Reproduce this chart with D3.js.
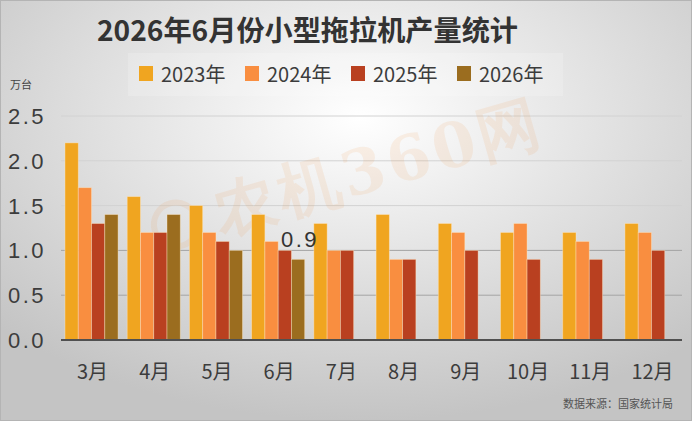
<!DOCTYPE html>
<html>
<head>
<meta charset="utf-8">
<script src="https://cdn.jsdelivr.net/npm/d3@7"></script>
<style>
  body { margin: 0; padding: 0; background: #fff; }
  svg { display: block; }
</style>
</head>
<body>
<div id="chart"></div>
<script>
// chart values
const months = ["3月", "4月", "5月", "6月", "7月", "8月", "9月", "10月", "11月", "12月"];
const years = ["2023年", "2024年", "2025年", "2026年"];
const s2023 = [2.2, 1.6, 1.5, 1.4, 1.3, 1.4, 1.3, 1.2, 1.2, 1.3];
const s2024 = [1.7, 1.2, 1.2, 1.1, 1.0, 0.9, 1.2, 1.3, 1.1, 1.2];
const s2025 = [1.3, 1.2, 1.1, 1.0, 1.0, 0.9, 1.0, 0.9, 0.9, 1.0];
const s2026 = [1.4, 1.4, 1.0, 0.9, null, null, null, null, null, null];
const yTicks = [0, 0.5, 1.0, 1.5, 2.0, 2.5];

const colors = ["#F0A520", "#F98E40", "#B94020", "#9B6D1F"];
const series = [s2023, s2024, s2025, s2026];

const width = 692;
const height = 421;
const cjk = "'Noto Sans CJK SC', sans-serif";
const num = "'Liberation Sans', Arial, sans-serif";

const svg = d3.select("#chart")
    .append("svg")
    .attr("width", width)
    .attr("height", height);

// background gradient
const defs = svg.append("defs");
const grad = defs.append("radialGradient")
    .attr("id", "bg")
    .attr("cx", "52%").attr("cy", "28%").attr("r", "72%");
grad.append("stop").attr("offset", "0%").attr("stop-color", "#ffffff");
grad.append("stop").attr("offset", "100%").attr("stop-color", "#c4c4c4");

svg.append("rect")
    .attr("width", width).attr("height", height)
    .attr("fill", "url(#bg)");
svg.append("rect")
    .attr("x", 0.5).attr("y", 0.5)
    .attr("width", width - 1).attr("height", height - 1)
    .attr("fill", "none")
    .attr("stroke", "#b4b4b4");

// scales
const x0 = d3.scaleBand()
    .domain(months)
    .range([61, 682])
    .paddingInner(0.147)
    .paddingOuter(0.064);

const x1 = d3.scaleBand()
    .domain(d3.range(years.length))
    .range([0, x0.bandwidth()]);

const y = d3.scaleLinear()
    .domain([0, 2.5])
    .range([340, 116]);

// gridlines
svg.append("g")
    .selectAll("line")
    .data(yTicks.filter(t => t > 0))
    .join("line")
    .attr("x1", 61).attr("x2", 682)
    .attr("y1", d => y(d)).attr("y2", d => y(d))
    .attr("stroke", d => d <= 1 ? "#a4a4a4" : "#d2d2d2")
    .attr("stroke-width", 1);

// y tick labels
svg.append("g")
    .selectAll("text")
    .data(yTicks)
    .join("text")
    .attr("x", 8)
    .attr("y", d => y(d) + 8)
    .attr("font-family", num)
    .attr("font-size", 22)
    .attr("letter-spacing", 2.5)
    .attr("fill", "#3c3c3c")
    .text(d => d.toFixed(1));

// watermark
const wm = svg.append("g")
    .attr("transform", "translate(150,232) rotate(-16)")
    .attr("opacity", 0.1);
wm.append("circle")
    .attr("cx", 27).attr("cy", 0).attr("r", 22)
    .attr("fill", "none")
    .attr("stroke", "#F08A30")
    .attr("stroke-width", 6);
wm.append("text")
    .attr("x", 68).attr("y", 22)
    .attr("font-family", "'DejaVu Serif', serif")
    .attr("font-weight", "bold")
    .attr("font-size", 62)
    .attr("letter-spacing", 4)
    .attr("fill", "#F08A30")
    .text("农机360网");

// bars
const groups = svg.append("g")
    .selectAll("g")
    .data(months)
    .join("g")
    .attr("transform", d => `translate(${x0(d)},0)`);

groups.selectAll("rect")
    .data((d, i) => series.map((s, k) => ({ k: k, v: s[i] })).filter(e => e.v !== null))
    .join("rect")
    .attr("x", d => x1(d.k))
    .attr("y", d => y(d.v))
    .attr("width", x1.bandwidth())
    .attr("height", d => y(0) - y(d.v))
    .attr("fill", d => colors[d.k])
    .attr("stroke", "rgba(255,235,200,0.5)")
    .attr("stroke-width", 0.8);

// value label on the latest bar
const lastIdx = 3;
svg.append("text")
    .attr("x", x0(months[lastIdx]) + x1(3) + x1.bandwidth() / 2 + 2)
    .attr("y", y(s2026[lastIdx]) - 12)
    .attr("text-anchor", "middle")
    .attr("font-family", num)
    .attr("font-size", 22)
    .attr("letter-spacing", 2.5)
    .attr("fill", "#333")
    .text(s2026[lastIdx].toFixed(1));

// x axis baseline
svg.append("line")
    .attr("x1", 61).attr("x2", 682)
    .attr("y1", y(0)).attr("y2", y(0))
    .attr("stroke", "#505050")
    .attr("stroke-width", 2);

// x labels
svg.append("g")
    .selectAll("text")
    .data(months)
    .join("text")
    .attr("x", d => x0(d) + x0.bandwidth() / 2 + 1)
    .attr("y", 379)
    .attr("text-anchor", "middle")
    .attr("font-family", cjk)
    .attr("font-size", 20)
    .attr("fill", "#3c3c3c")
    .text(d => d);

// title
svg.append("text")
    .attr("x", 97)
    .attr("y", 41)
    .attr("font-family", cjk)
    .attr("font-weight", "bold")
    .attr("font-size", 28)
    .attr("textLength", 421)
    .attr("lengthAdjust", "spacingAndGlyphs")
    .attr("fill", "#333")
    .text("2026年6月份小型拖拉机产量统计");

// legend
svg.append("rect")
    .attr("x", 128).attr("y", 53)
    .attr("width", 435).attr("height", 43)
    .attr("fill", "#fff")
    .attr("opacity", 0.18);

const legend = svg.append("g")
    .selectAll("g")
    .data(years)
    .join("g")
    .attr("transform", (d, i) => `translate(${139 + i * 106},0)`);

legend.append("rect")
    .attr("x", 0).attr("y", 66)
    .attr("width", 14).attr("height", 15)
    .attr("fill", (d, i) => colors[i]);

legend.append("text")
    .attr("x", 22).attr("y", 82)
    .attr("font-family", cjk)
    .attr("font-size", 20)
    .attr("fill", "#3c3c3c")
    .text(d => d);

// unit
svg.append("text")
    .attr("x", 10).attr("y", 89)
    .attr("font-family", cjk)
    .attr("font-size", 11)
    .attr("fill", "#444")
    .text("万台");

// source
svg.append("text")
    .attr("x", 673).attr("y", 408)
    .attr("text-anchor", "end")
    .attr("font-family", cjk)
    .attr("font-size", 11)
    .attr("fill", "#555")
    .text("数据来源：国家统计局");
</script>
</body>
</html>
